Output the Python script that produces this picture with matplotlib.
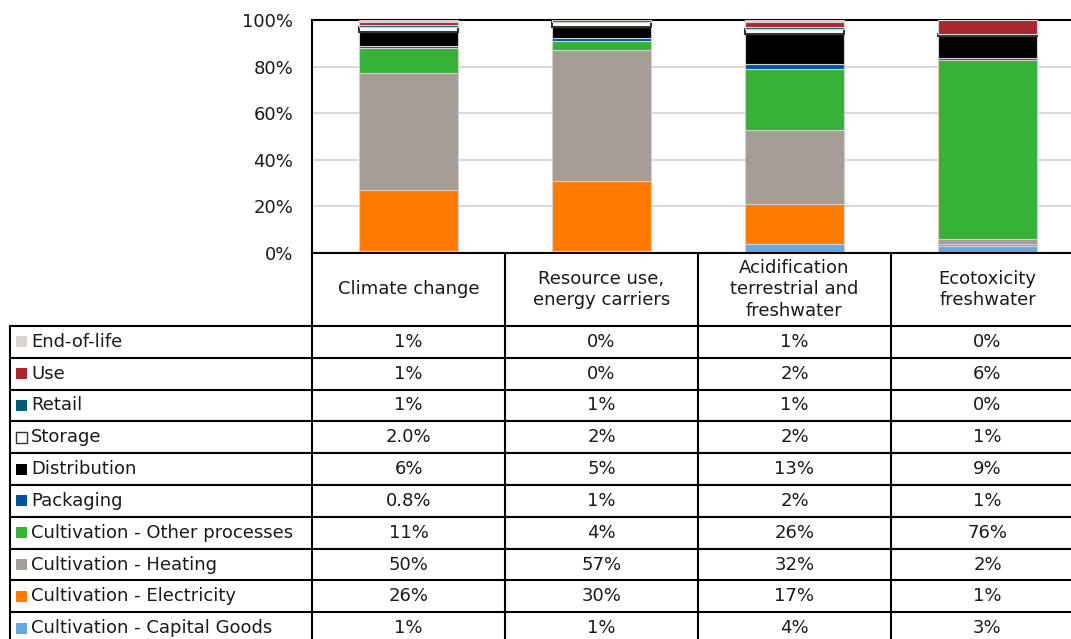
import matplotlib.pyplot as plt
from matplotlib.patches import Rectangle

# impact categories (columns) and life-cycle stages (rows, top to bottom in the table)
categories = ['Climate change', 'Resource use,\nenergy carriers',
              'Acidification\nterrestrial and\nfreshwater', 'Ecotoxicity\nfreshwater']
stages = ['End-of-life', 'Use', 'Retail', 'Storage', 'Distribution', 'Packaging',
          'Cultivation - Other processes', 'Cultivation - Heating',
          'Cultivation - Electricity', 'Cultivation - Capital Goods']
colors = ['#d9d6d0', '#a9282f', '#005a78', '#ffffff', '#000000', '#0050a0',
          '#36b336', '#a59d96', '#ff7c00', '#64a8e0']

# table values as printed, one list per impact category (same order as stages)
climate_change = ['1%', '1%', '1%', '2.0%', '6%', '0.8%', '11%', '50%', '26%', '1%']
resource_use = ['0%', '0%', '1%', '2%', '5%', '1%', '4%', '57%', '30%', '1%']
acidification = ['1%', '2%', '1%', '2%', '13%', '2%', '26%', '32%', '17%', '4%']
ecotoxicity = ['0%', '6%', '0%', '1%', '9%', '1%', '76%', '2%', '1%', '3%']
columns = [climate_change, resource_use, acidification, ecotoxicity]

W, H = 1071, 639
fig = plt.figure(figsize=(W / 100, H / 100), dpi=100)
fs = 13
tc = '#1a1a1a'

# chart area (extends a little past the right edge, as in the original)
x0, x1, ytop, ybot = 312, 1084, 20, 253
ax = fig.add_axes([x0 / W, (H - ybot) / H, (x1 - x0) / W, (ybot - ytop) / H])

for j, col in enumerate(columns):
    vals = [float(s.rstrip('%')) for s in col]
    total = sum(vals)
    bottom = 0
    # stack from the bottom row of the table upward
    for i in range(len(stages) - 1, -1, -1):
        h = vals[i] / total
        edge = '#333333' if stages[i] == 'Storage' else '#d0d0d0'
        lw = 1.5 if stages[i] == 'Storage' else 0.8
        ax.bar(j, h, bottom=bottom, width=0.51, color=colors[i],
               edgecolor=edge, linewidth=lw, zorder=3)
        bottom += h

ax.set_xlim(-0.5, 3.5)
ax.set_ylim(0, 1)
ax.set_yticks([0, 0.2, 0.4, 0.6, 0.8, 1.0])
ax.set_yticklabels(['0%', '20%', '40%', '60%', '80%', '100%'], fontsize=fs, color=tc)
ax.tick_params(axis='y', length=0, pad=13.5)
ax.set_xticks([])
ax.grid(axis='y', color='#d9d9d9', linewidth=1.5, zorder=0)
for s in ['left', 'top']:
    ax.spines[s].set_linewidth(1.5)
ax.spines['right'].set_visible(False)
ax.spines['bottom'].set_visible(False)

# data table drawn underneath in pixel coordinates
tax = fig.add_axes([0, 0, 1, 1])
tax.set_xlim(0, W)
tax.set_ylim(H, 0)
tax.axis('off')

col_w = (x1 - x0) / len(categories)
head_bot = 326
row_h = 31.8
lc = 'black'

# header row
tax.plot([x0, x1], [ybot, ybot], color=lc, lw=1.5)
for k in range(len(categories) + 1):
    xk = x0 + k * col_w
    tax.plot([xk, xk], [ybot, head_bot], color=lc, lw=1.5)
for k, cat in enumerate(categories):
    tax.text(x0 + (k + 0.5) * col_w, (ybot + head_bot) / 2, cat, ha='center',
             va='center', fontsize=fs, linespacing=1.25, color=tc)

# body rows
for r in range(len(stages) + 1):
    yr = head_bot + r * row_h
    tax.plot([10, x1], [yr, yr], color=lc, lw=1.5)
yb = head_bot + len(stages) * row_h
tax.plot([10, 10], [head_bot, yb], color=lc, lw=1.5)
for k in range(len(categories) + 1):
    xk = x0 + k * col_w
    tax.plot([xk, xk], [head_bot, yb], color=lc, lw=1.5)

for r, stage in enumerate(stages):
    yc = head_bot + (r + 0.5) * row_h
    ec = '#333333' if stage == 'Storage' else colors[r]
    tax.add_patch(Rectangle((16, yc - 5.5), 11, 11, facecolor=colors[r],
                            edgecolor=ec, lw=1 if stage == 'Storage' else 0))
    tax.text(31, yc, stage, ha='left', va='center', fontsize=fs, color=tc)
    for k, col in enumerate(columns):
        tax.text(x0 + (k + 0.5) * col_w, yc, col[r], ha='center', va='center',
                 fontsize=fs, color=tc)

plt.savefig('out.png', dpi=100)
